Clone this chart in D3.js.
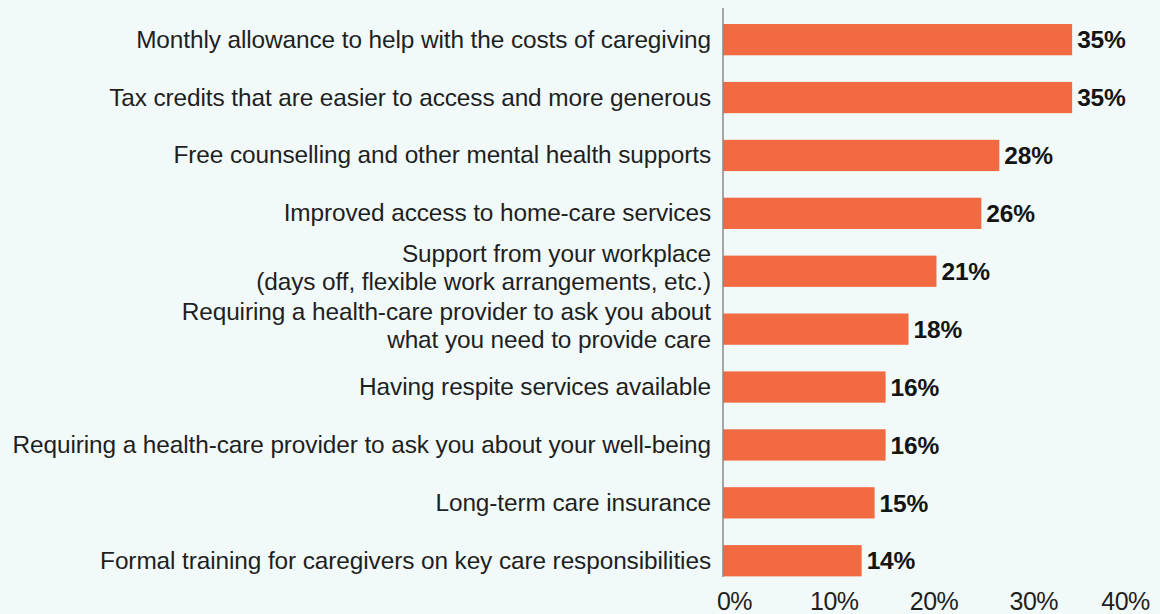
<!DOCTYPE html>
<html>
<head>
<meta charset="utf-8">
<script src="https://cdn.jsdelivr.net/npm/d3@7"></script>
<style>
  html, body { margin: 0; padding: 0; background: #F1FAF9; }
  svg { display: block; }
  text { font-family: "Liberation Sans", Arial, sans-serif; }
</style>
</head>
<body>
<svg id="chart" width="1160" height="614"></svg>
<script>
const categories = [
  ["Monthly allowance to help with the costs of caregiving"],
  ["Tax credits that are easier to access and more generous"],
  ["Free counselling and other mental health supports"],
  ["Improved access to home-care services"],
  ["Support from your workplace", "(days off, flexible work arrangements, etc.)"],
  ["Requiring a health-care provider to ask you about", "what you need to provide care"],
  ["Having respite services available"],
  ["Requiring a health-care provider to ask you about your well-being"],
  ["Long-term care insurance"],
  ["Formal training for caregivers on key care responsibilities"]
];
const values = [35, 35, 27.7, 25.9, 21.4, 18.6, 16.3, 16.3, 15.2, 13.9];
const valueLabels = ["35%", "35%", "28%", "26%", "21%", "18%", "16%", "16%", "15%", "14%"];
const tickValues = [0, 10, 20, 30, 40];
const tickLabels = ["0%", "10%", "20%", "30%", "40%"];

const svg = d3.select("#chart");
const x0 = 723;
const x = d3.scaleLinear().domain([0, 40]).range([x0, 1122]);
const y = d3.scaleBand().domain(d3.range(categories.length)).range([-2.6, 603]).padding(0.46);

// bars
svg.append("g").selectAll("rect").data(values).join("rect")
  .attr("x", x(0))
  .attr("y", (d, i) => y(i))
  .attr("width", d => x(d) - x(0))
  .attr("height", y.bandwidth())
  .attr("fill", "#F26A42");

// axis line
svg.append("line")
  .attr("x1", x0).attr("x2", x0)
  .attr("y1", 8).attr("y2", 577)
  .attr("stroke", "#8a8a8a").attr("stroke-width", 1.5);

// category labels
const lab = svg.append("g").selectAll("text").data(categories).join("text")
  .attr("text-anchor", "end")
  .attr("font-size", 24.4)
  .attr("letter-spacing", -0.1)
  .attr("fill", "#1f1f1f")
  .attr("transform", (d, i) => `translate(711, ${y(i) + y.bandwidth() / 2})`);
lab.each(function(d) {
  const t = d3.select(this);
  const n = d.length;
  d.forEach((line, k) => {
    t.append("tspan")
      .attr("x", 0)
      .attr("y", n === 1 ? 8 : (k === 0 ? -9 : 18.5))
      .text(line);
  });
});

// value labels
svg.append("g").selectAll("text").data(values).join("text")
  .attr("x", d => x(d) + 5)
  .attr("y", (d, i) => y(i) + y.bandwidth() / 2 + 8.7)
  .attr("font-size", 24.5)
  .attr("font-weight", "bold")
  .attr("letter-spacing", -0.2)
  .attr("fill", "#141414")
  .text((d, i) => valueLabels[i]);

// x axis tick labels
const axis = d3.axisBottom(x).tickValues(tickValues).tickFormat((d, i) => tickLabels[i]).tickSize(0);
const gx = svg.append("g").attr("transform", "translate(0, 592)").call(axis);
gx.select(".domain").remove();
gx.selectAll("text")
  .attr("font-family", "Liberation Sans, Arial, sans-serif")
  .attr("font-size", 25)
  .attr("letter-spacing", -0.5)
  .attr("fill", "#1f1f1f")
  .attr("dx", (d, i) => i === tickValues.length - 1 ? 3 : 11)
  .attr("dy", 0)
  .attr("y", 18);
</script>
</body>
</html>
